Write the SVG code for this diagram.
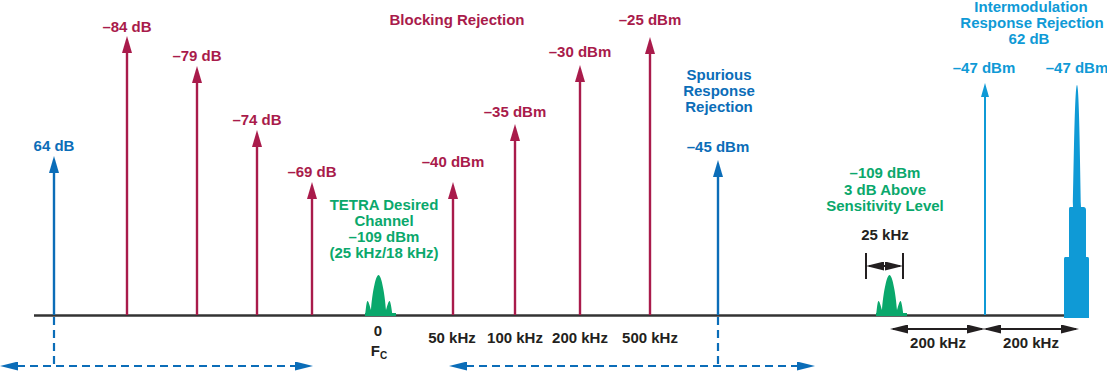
<svg xmlns="http://www.w3.org/2000/svg" width="1107" height="371" viewBox="0 0 1107 371">
<style>
text{font-family:"Liberation Sans",Arial,sans-serif;font-weight:bold;font-size:15px;text-anchor:middle}
.red{fill:#a91b4b}
.blue{fill:#0b6db8}
.lblue{fill:#0f9ad6}
.green{fill:#0aa86c}
.blk{fill:#231f20}
.lr{stroke:#a91b4b;stroke-width:2.4;fill:none}
.lb{stroke:#0b6db8;stroke-width:2.4;fill:none}
.llb{stroke:#0f9ad6;stroke-width:2;fill:none}
.dash{stroke:#0b6db8;stroke-width:2.2;stroke-dasharray:8 5;fill:none}
.dim{stroke:#231f20;stroke-width:2;fill:none}
</style>
<defs>
<marker id="hr" viewBox="0 0 17 10" markerWidth="17" markerHeight="10" refX="7" refY="5" orient="auto" markerUnits="userSpaceOnUse"><path d="M0,0 L17,5 L0,10 Z" fill="#a91b4b"/></marker>
<marker id="hb" viewBox="0 0 17 10" markerWidth="17" markerHeight="10" refX="7" refY="5" orient="auto" markerUnits="userSpaceOnUse"><path d="M0,0 L17,5 L0,10 Z" fill="#0b6db8"/></marker>
<marker id="hlb" viewBox="0 0 14 8" markerWidth="14" markerHeight="8" refX="5" refY="4" orient="auto" markerUnits="userSpaceOnUse"><path d="M0,0 L14,4 L0,8 Z" fill="#0f9ad6"/></marker>
<marker id="hbd" viewBox="0 0 18 9" markerWidth="18" markerHeight="9" refX="14" refY="4.5" orient="auto-start-reverse" markerUnits="userSpaceOnUse"><path d="M0,0 L18,4.5 L0,9 Z" fill="#0b6db8"/></marker>
<marker id="hk" viewBox="0 0 18 9" markerWidth="18" markerHeight="9" refX="15" refY="4.5" orient="auto-start-reverse" markerUnits="userSpaceOnUse"><path d="M0,0 L18,4.5 L0,9 Z" fill="#231f20"/></marker>
<g id="bump">
<rect x="-14" y="313" width="31" height="3" fill="#0aa86c"/>
<path d="M-14,316 C-13,308 -12.5,301 -11.5,301 C-10.5,301 -9.5,305 -8,310 C-7,295 -3.5,275 -0.5,275 C2.5,275 6,295 7,310 C8.5,305 9.5,301 10.5,301 C11.5,301 12.5,308 13.5,316 Z" fill="#0aa86c"/>
</g>
</defs>

<g id="axis"><line x1="34" y1="315.5" x2="1088" y2="315.5" stroke="#333" stroke-width="2.4"/></g>

<g id="connectors">
<line class="lb" x1="54" y1="315" x2="54" y2="166" marker-end="url(#hb)"/>
<line class="lr" x1="127" y1="315" x2="127" y2="46" marker-end="url(#hr)"/>
<line class="lr" x1="197" y1="315" x2="197" y2="76" marker-end="url(#hr)"/>
<line class="lr" x1="257" y1="315" x2="257" y2="140" marker-end="url(#hr)"/>
<line class="lr" x1="312" y1="315" x2="312" y2="192" marker-end="url(#hr)"/>
<line class="lr" x1="453" y1="315" x2="453" y2="192" marker-end="url(#hr)"/>
<line class="lr" x1="515" y1="315" x2="515" y2="134" marker-end="url(#hr)"/>
<line class="lr" x1="580" y1="315" x2="580" y2="75" marker-end="url(#hr)"/>
<line class="lr" x1="650" y1="315" x2="650" y2="47" marker-end="url(#hr)"/>
<line class="lb" x1="718" y1="315" x2="718" y2="170" marker-end="url(#hb)"/>
<line class="llb" x1="985" y1="315" x2="985" y2="92" marker-end="url(#hlb)"/>
<line class="dash" x1="54" y1="317" x2="54" y2="366"/>
<line class="dash" x1="4" y1="366" x2="309" y2="366" marker-start="url(#hbd)" marker-end="url(#hbd)"/>
<line class="dash" x1="718" y1="317" x2="718" y2="366"/>
<line class="dash" x1="453" y1="366" x2="811" y2="366" marker-start="url(#hbd)" marker-end="url(#hbd)"/>
<line class="dim" x1="893" y1="329" x2="982" y2="329" marker-start="url(#hk)" marker-end="url(#hk)"/>
<line class="dim" x1="986" y1="329" x2="1076" y2="329" marker-start="url(#hk)" marker-end="url(#hk)"/>
<line class="dim" x1="866" y1="253" x2="866" y2="279"/>
<line class="dim" x1="903" y1="253" x2="903" y2="279"/>
<line class="dim" x1="869" y1="266" x2="900" y2="266" marker-start="url(#hk)" marker-end="url(#hk)"/>
</g>

<g id="desired-channel">
<use href="#bump" transform="translate(379,0)"/>
<text class="green" x="384" y="210">TETRA Desired</text>
<text class="green" x="384" y="226">Channel</text>
<text class="green" x="384" y="242">–109 dBm</text>
<text class="green" x="384" y="258">(25 kHz/18 kHz)</text>
<text class="blk" x="378" y="336">0</text>
<text class="blk" x="379" y="356">F<tspan font-size="10" dy="3">C</tspan></text>
</g>

<g id="sensitivity-signal">
<use href="#bump" transform="translate(890,0)"/>
<text class="green" x="885" y="178">–109 dBm</text>
<text class="green" x="885" y="195">3 dB Above</text>
<text class="green" x="885" y="211">Sensitivity Level</text>
<text class="blk" x="885" y="240">25 kHz</text>
</g>

<g id="imd-signal">
<path d="M1064,318 L1064,259 C1064,257 1065,257 1066,257 L1069,257 L1069,209 C1069,207 1070,207 1071,207 L1073,207 C1074,150 1075,85 1077,85 C1079,85 1080,150 1081,207 L1083.5,207 C1085,207 1086,208 1086,210 L1086,257 L1087.5,257 C1089,257 1089,258 1089,260 L1089,318 Z" fill="#0f9ad6"/>
</g>

<g id="left-spurious">
<text class="blue" x="54" y="151">64 dB</text>
</g>

<g id="adjacent-levels">
<text class="red" x="127" y="32">–84 dB</text>
<text class="red" x="197" y="61">–79 dB</text>
<text class="red" x="257" y="125">–74 dB</text>
<text class="red" x="312" y="177">–69 dB</text>
</g>

<g id="blocking">
<text class="red" x="457" y="25">Blocking Rejection</text>
<text class="red" x="453" y="167">–40 dBm</text>
<text class="red" x="515" y="117">–35 dBm</text>
<text class="red" x="580" y="57">–30 dBm</text>
<text class="red" x="650" y="25">–25 dBm</text>
</g>

<g id="spurious">
<text class="blue" x="719" y="80">Spurious</text>
<text class="blue" x="719" y="96">Response</text>
<text class="blue" x="719" y="112">Rejection</text>
<text class="blue" x="718" y="152">–45 dBm</text>
</g>

<g id="intermod">
<text class="lblue" x="1031" y="12">Intermodulation</text>
<text class="lblue" x="1032" y="28">Response Rejection</text>
<text class="lblue" x="1029" y="44">62 dB</text>
<text class="lblue" x="984" y="73">–47 dBm</text>
<text class="lblue" x="1077" y="73">–47 dBm</text>
</g>

<g id="freq-labels">
<text class="blk" x="452" y="343">50 kHz</text>
<text class="blk" x="515" y="343">100 kHz</text>
<text class="blk" x="580" y="343">200 kHz</text>
<text class="blk" x="650" y="343">500 kHz</text>
<text class="blk" x="938" y="348">200 kHz</text>
<text class="blk" x="1031" y="348">200 kHz</text>
</g>
</svg>
